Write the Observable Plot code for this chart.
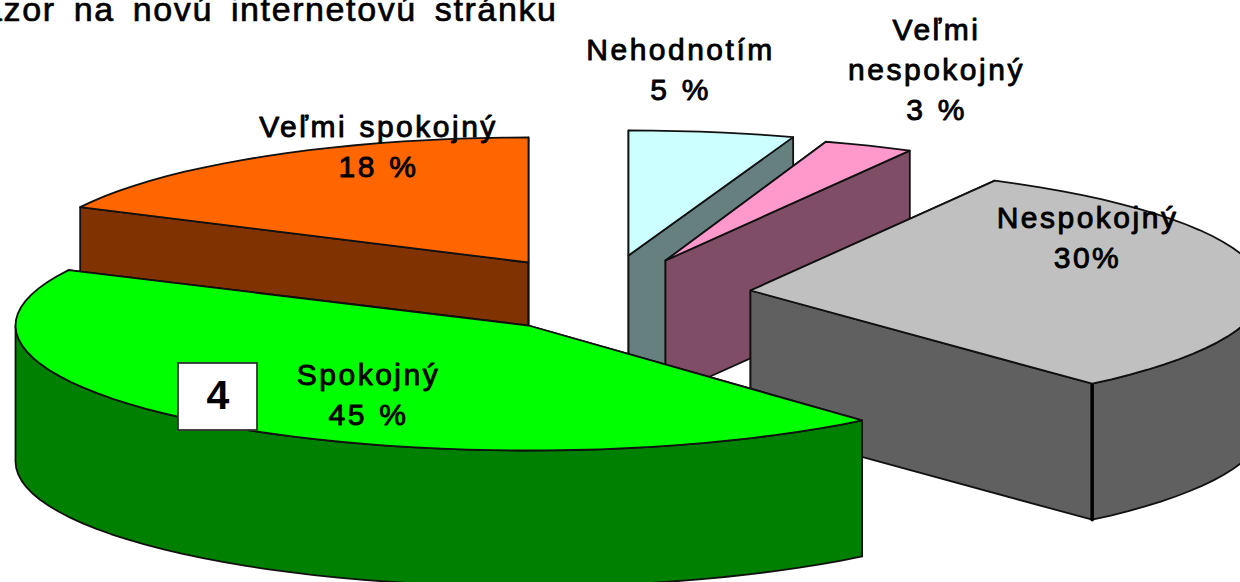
<!DOCTYPE html>
<html lang="sk">
<head>
<meta charset="utf-8">
<style>
html,body{margin:0;padding:0;background:#fff;overflow:hidden;width:1240px;height:582px}
svg{display:block;overflow:hidden}
</style>
<script src="https://cdn.jsdelivr.net/npm/d3@7"></script>
<script src="https://cdn.jsdelivr.net/npm/@observablehq/plot@0.6"></script>
</head>
<body>
<script>
// ---- data (clockwise from 12 o'clock) ----
const chartTitle = "Názor na novú internetovú stránku";
const categories = ["Nehodnotím", "Veľmi nespokojný", "Nespokojný", "Spokojný", "Veľmi spokojný"];
const printedLabels = ["Nehodnotím\n5 %", "Veľmi\nnespokojný\n3 %", "Nespokojný\n30%", "Spokojný\n45 %", "Veľmi spokojný\n18 %"];
const drawnShare = [5.2, 2.7, 30.5, 43.9, 17.7]; // share of the turn each slice actually sweeps
const badgeText = "4";

// ---- styling and layout, kept apart from the data ----
const W = 1240, H = 582;
const radiusY = 125, depth = 136;
const look = {
  "Nehodnotím":       {top: "#ccffff", wall: "#668080", center: [628, 255], radiusX: 513, gap: 0,    textAt: [680, 50]},
  "Veľmi nespokojný": {top: "#ff99cc", wall: "#804d66", center: [665, 260], radiusX: 513, gap: -0.5, textAt: [936, 30]},
  "Nespokojný":       {top: "#c0c0c0", wall: "#606060", center: [750, 290], radiusX: 513, gap: 0,    textAt: [1087, 218]},
  "Spokojný":         {top: "#00ff00", wall: "#008000", center: [528, 325], radiusX: 513, gap: 1.2,  textAt: [368, 375]},
  "Veľmi spokojný":   {top: "#ff6600", wall: "#803300", center: [528, 262], radiusX: 500, gap: 0,    textAt: [378, 127]}
};
const paintOrder = ["Nehodnotím", "Veľmi nespokojný", "Nespokojný", "Veľmi spokojný", "Spokojný"];
const badge = {x1: 178, x2: 257, y1: 363, y2: 430};
const textFont = "'Liberation Sans', Arial, sans-serif";
const spaced = (letter, word) => (index, scales, values, dims, ctx, next) => {
  const g = next(index, scales, values, dims, ctx);
  g.style.letterSpacing = letter + "px";
  g.style.wordSpacing = word + "px";
  return g;
};

// ---- slice geometry from the shares ----
const turn = d3.sum(drawnShare);
let running = 0;
const slices = categories.map((name, i) => {
  const start = running / turn * 2 * Math.PI + look[name].gap * Math.PI / 180;
  running += drawnShare[i];
  return {name, start, end: running / turn * 2 * Math.PI, printed: printedLabels[i], ...look[name]};
});
const rim = (s, a, drop = 0) => ({
  x: s.center[0] + s.radiusX * Math.sin(a),
  y: s.center[1] - radiusY * Math.cos(a) + drop
});
const arc = (s, a0, a1, drop = 0) => {
  const n = Math.max(2, Math.ceil((a1 - a0) / (Math.PI / 60)));
  return d3.range(n + 1).map(i => rim(s, a0 + (a1 - a0) * i / n, drop));
};
const apex = (s, drop = 0) => ({x: s.center[0], y: s.center[1] + drop});
const face = (points, fill, strokeWidth = 1.8) =>
  Plot.line([...points, points[0]], {x: "x", y: "y", fill, stroke: "#111", strokeWidth, curve: "linear", strokeLinejoin: "round"});

const marks = [];
for (const name of paintOrder) {
  const s = slices.find(d => d.name === name);
  for (const a of [s.start, s.end]) {
    marks.push(face([apex(s), rim(s, a), rim(s, a, depth), apex(s, depth)], s.wall));
  }
  const a0 = Math.max(s.start, Math.PI / 2), a1 = Math.min(s.end, 3 * Math.PI / 2);
  if (a1 > a0) {
    marks.push(face([...arc(s, a0, a1), ...arc(s, a0, a1, depth).reverse()], s.wall));
  }
  if (name === "Nespokojný") {
    marks.push(Plot.line([rim(s, s.end), rim(s, s.end, depth)], {x: "x", y: "y", stroke: "#000", strokeWidth: 3.5}));
  }
  marks.push(face([apex(s), ...arc(s, s.start, s.end)], s.top));
}

const labelRows = slices.map(s => ({text: s.printed, x: s.textAt[0], y: s.textAt[1]}));

document.body.append(Plot.plot({
  width: W, height: H,
  margin: 0,
  x: {domain: [0, W], range: [0, W], axis: null},
  y: {domain: [0, H], range: [0, H], axis: null},
  style: {background: "#fff"},
  marks: [
    ...marks,
    Plot.rect([badge], {x1: "x1", x2: "x2", y1: "y1", y2: "y2", fill: "#fff", stroke: "#333", strokeWidth: 1.8}),
    Plot.text([badgeText], {
      x: () => (badge.x1 + badge.x2) / 2, y: () => (badge.y1 + badge.y2) / 2 - 1,
      text: d => d, fontFamily: textFont, fontWeight: "bold", fontSize: 41, fill: "#000"
    }),
    Plot.text(labelRows, {
      x: "x", y: "y", text: "text", lineAnchor: "top", textAnchor: "middle", lineHeight: 1.33, dy: -19,
      fontFamily: textFont, fontSize: 30, fill: "#000", stroke: "#000", strokeWidth: 0.9,
      render: spaced(2.5, 1.5)
    }),
    Plot.text([chartTitle], {
      x: () => 557, y: () => 10, text: d => d, textAnchor: "end",
      fontFamily: textFont, fontSize: 34, fill: "#000", stroke: "#000", strokeWidth: 0.7,
      render: spaced(1.6, 7)
    })
  ]
}));
</script>
</body>
</html>
